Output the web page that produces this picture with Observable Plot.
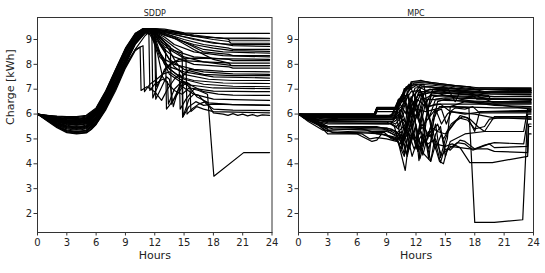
<!DOCTYPE html>
<html><head><meta charset="utf-8">
<script src="https://cdn.jsdelivr.net/npm/d3@7"></script>
<script src="https://cdn.jsdelivr.net/npm/@observablehq/plot@0.6"></script>
<style>
html,body{margin:0;padding:0;background:#fff;}
#chart{position:relative;width:545px;height:273px;font-family:"DejaVu Sans",sans-serif;}
#chart svg{position:absolute;top:0;overflow:visible;}
</style></head><body><div id="chart"></div>
<script>
const xTicks = [0, 3, 6, 9, 12, 15, 18, 21, 24];
const yTicks = [2, 3, 4, 5, 6, 7, 8, 9];
const panelTitles = ["SDDP", "MPC"];
const xLabel = "Hours";
const yLabel = "Charge [kWh]";

// SDDP trajectories: [hour, charge kWh]
const sddp = [
[[0,6],[1,5.95],[2,5.92],[3,5.9],[4,5.9],[5,5.95],[6,6.25],[7,6.95],[8,7.8],[9,8.65],[10,9.25],[10.8,9.43],[12,9.44],[13,9.42],[14,9.35],[15,9.27],[16,9.25],[23.75,9.25]],
[[0,6],[1,5.88],[2,5.78],[3,5.7],[4,5.68],[5,5.72],[6,6.05],[7,6.75],[8,7.6],[9,8.45],[10,9.1],[11,9.42],[12,9.42],[14,9.32],[16,9.18],[19.5,9.02],[19.7,8.95],[23.75,8.95]],
[[0,6],[1,5.9],[2,5.82],[3,5.75],[4,5.74],[5,5.8],[6,6.15],[7,6.85],[8,7.7],[9,8.55],[10,9.18],[11,9.42],[12,9.4],[14,9.25],[17,9.1],[19.5,9.03],[23.75,9.03]],
[[0,6],[1,5.85],[2,5.7],[3,5.6],[4,5.55],[5,5.6],[6,5.95],[7,6.6],[8,7.45],[9,8.35],[10,9.05],[11,9.4],[12,9.38],[15,9.2],[18,9.0],[19.6,8.92],[19.8,8.85],[23.75,8.85]],
[[0,6],[1,5.82],[2,5.65],[3,5.55],[4,5.5],[5,5.55],[6,5.9],[7,6.55],[8,7.35],[9,8.25],[10,9.0],[11,9.38],[11.5,9.4],[14,9.2],[17,8.95],[20,8.75],[23.75,8.72]],
[[0,6],[1,5.9],[2,5.8],[3,5.72],[4,5.7],[5,5.76],[6,6.1],[7,6.8],[8,7.65],[9,8.5],[10,9.15],[11,9.42],[12,9.35],[13,9.25],[15,9.0],[17,8.8],[19.6,8.65],[20,8.6],[23.75,8.6]],
[[0,6],[1,5.86],[2,5.72],[3,5.63],[4,5.6],[5,5.66],[6,6.0],[7,6.65],[8,7.5],[9,8.4],[10,9.08],[11,9.4],[12,9.3],[13.5,9.1],[16,8.8],[18,8.65],[20,8.55],[23.75,8.52]],
[[0,6],[1,5.8],[2,5.6],[3,5.45],[4,5.4],[5,5.45],[6,5.8],[7,6.45],[8,7.25],[9,8.15],[10,8.95],[11,9.35],[11.6,9.4],[13,9.2],[15,8.9],[17,8.6],[19,8.5],[23.75,8.45]],
[[0,6],[1,5.93],[2,5.88],[3,5.82],[4,5.82],[5,5.88],[6,6.2],[7,6.9],[8,7.75],[9,8.6],[10,9.2],[10.9,9.43],[12,9.3],[13,9.1],[14,8.8],[16,8.5],[19,8.35],[23.75,8.3]],
[[0,6],[1,5.84],[2,5.68],[3,5.58],[4,5.55],[5,5.6],[6,5.97],[7,6.62],[8,7.47],[9,8.38],[10,9.07],[11,9.4],[12,9.35],[12.5,9.0],[13,8.7],[14,8.55],[16,8.3],[19.6,8.2],[20,8.15],[23.75,8.15]],
[[0,6],[1,5.78],[2,5.55],[3,5.4],[4,5.35],[5,5.4],[6,5.75],[7,6.4],[8,7.2],[9,8.1],[10,8.9],[11,9.3],[11.7,9.38],[12.5,9.1],[13.5,8.7],[15,8.3],[17,8.1],[20,7.95],[23.75,7.95]],
[[0,6],[1,5.88],[2,5.76],[3,5.68],[4,5.65],[5,5.7],[6,6.05],[7,6.72],[8,7.58],[9,8.48],[10,9.12],[11,9.42],[12,9.2],[13,8.6],[14,8.3],[16,8.0],[19.6,7.9],[20,7.85],[23.75,7.85]],
[[0,6],[1,5.75],[2,5.5],[3,5.32],[4,5.28],[5,5.32],[6,5.65],[7,6.3],[8,7.1],[9,8.0],[10,8.8],[11,9.25],[11.8,9.35],[12.3,8.6],[13,8.2],[14,8.0],[16,7.8],[19,7.72],[23.75,7.7]],
[[0,6],[1,5.9],[2,5.8],[3,5.74],[4,5.72],[5,5.78],[6,6.12],[7,6.82],[8,7.68],[9,8.52],[10,9.17],[11,9.42],[12,9.2],[12.6,8.8],[13.5,8.2],[15,7.8],[17,7.6],[20,7.55],[23.75,7.55]],
[[0,6],[1,5.82],[2,5.62],[3,5.5],[4,5.45],[5,5.5],[6,5.85],[7,6.5],[8,7.3],[9,8.2],[10,8.95],[11,9.35],[11.5,9.4],[12,8.9],[12.5,8.3],[13.5,7.9],[15,7.7],[18,7.5],[23.75,7.45]],
[[0,6],[1,5.86],[2,5.73],[3,5.64],[4,5.62],[5,5.67],[6,6.02],[7,6.68],[8,7.52],[9,8.42],[10,9.1],[11,9.4],[12,9.1],[13,8.5],[14,7.9],[15,7.6],[17.5,7.4],[20,7.35],[23.75,7.35]],
[[0,6],[1,5.8],[2,5.58],[3,5.46],[4,5.42],[5,5.47],[6,5.82],[7,6.47],[8,7.27],[9,8.17],[10,8.92],[11,9.33],[11.6,9.38],[12.2,8.7],[13,8.0],[14.5,7.5],[16,7.35],[19,7.25],[23.75,7.23]],
[[0,6],[1,5.92],[2,5.86],[3,5.8],[4,5.79],[5,5.85],[6,6.18],[7,6.88],[8,7.72],[9,8.58],[10,9.2],[10.9,9.43],[11.5,9.2],[12.5,8.5],[13.5,7.8],[15,7.4],[17,7.2],[20,7.12],[23.75,7.1]],
[[0,6],[1,5.78],[2,5.52],[3,5.36],[4,5.3],[5,5.35],[6,5.7],[7,6.35],[8,7.15],[9,8.05],[10,8.85],[11,9.28],[11.8,9.36],[12.6,8.4],[13.5,7.6],[15,7.2],[18,7.05],[23.75,7.02]],
[[0,6],[1,5.76],[2,5.5],[3,5.3],[4,5.25],[5,5.3],[6,5.62],[7,6.25],[8,7.05],[9,7.95],[10,8.6],[10.8,8.75],[10.95,6.9],[11.5,7.2],[12.2,7.4],[12.8,7.6],[13.5,7.7],[14.2,7.5],[15,7.3],[16,7.1],[17,6.9],[18.5,6.8],[20,6.76],[23.75,6.75]],
[[0,6],[1,5.83],[2,5.66],[3,5.52],[4,5.48],[5,5.52],[6,5.88],[7,6.52],[8,7.33],[9,8.22],[10,8.95],[11,9.35],[11.4,9.2],[11.5,6.95],[12,7.2],[12.8,7.4],[13.3,7.3],[13.4,6.4],[14,7.0],[14.5,7.2],[15.2,7.0],[16,6.8],[18,6.6],[23.75,6.55]],
[[0,6],[1,5.87],[2,5.74],[3,5.66],[4,5.63],[5,5.68],[6,6.04],[7,6.7],[8,7.55],[9,8.45],[10,9.1],[11,9.4],[12,9.25],[13,8.9],[13.6,8.7],[13.7,6.4],[14.3,6.9],[15,7.3],[15.5,7.1],[16.3,6.7],[17.5,6.45],[20,6.38],[23.75,6.35]],
[[0,6],[1,5.9],[2,5.79],[3,5.7],[4,5.68],[5,5.73],[6,6.08],[7,6.77],[8,7.63],[9,8.5],[10,9.14],[11,9.41],[12,9.3],[13,9.0],[14,8.7],[14.8,8.5],[14.9,5.9],[15.5,6.6],[16,6.8],[16.5,6.75],[17.3,6.4],[18,6.2],[19,6.18],[20,6.16],[23.75,6.14]],
[[0,6],[1,5.81],[2,5.6],[3,5.48],[4,5.44],[5,5.49],[6,5.84],[7,6.48],[8,7.29],[9,8.19],[10,8.93],[11,9.34],[11.6,9.39],[12.5,9.0],[13.5,8.6],[15.2,8.2],[15.3,6.0],[15.8,6.2],[16.5,6.4],[17.2,6.5],[17.6,6.3],[18,6.05],[19,6.0],[19.5,5.95],[20,6.02],[20.5,5.95],[21,6.0],[21.5,5.93],[22,5.98],[22.5,5.92],[23,5.97],[23.75,5.95]],
[[0,6],[1,5.84],[2,5.7],[3,5.6],[4,5.57],[5,5.62],[6,5.98],[7,6.63],[8,7.48],[9,8.38],[10,9.06],[11,9.39],[12,9.3],[13,8.9],[14,8.2],[14.5,7.9],[14.6,6.2],[15.2,6.6],[16,7.0],[16.5,6.95],[17.4,6.8],[18.05,3.5],[21.1,4.45],[23.75,4.45]],
[[0,6],[1,5.79],[2,5.56],[3,5.42],[4,5.38],[5,5.43],[6,5.78],[7,6.42],[8,7.22],[9,8.12],[10,8.9],[11,9.3],[11.7,9.36],[11.8,6.65],[12.4,7.2],[13,7.8],[14,8.1],[15,8.15],[17,8.1],[20,8.05],[23.75,8.05]],
[[0,6],[1,5.91],[2,5.84],[3,5.78],[4,5.77],[5,5.83],[6,6.16],[7,6.86],[8,7.7],[9,8.55],[10,9.19],[11,9.43],[12.5,9.38],[14,9.2],[16,9.0],[18,8.85],[20,8.8],[23.75,8.8]],
[[0,6],[1,5.95],[2,5.9],[3,5.86],[4,5.86],[5,5.92],[6,6.22],[7,6.92],[8,7.78],[9,8.62],[10,9.23],[10.8,9.44],[12,9.43],[14,9.3],[16,9.12],[19,9.06],[23.75,9.05]],
[[0,6],[1,5.77],[2,5.52],[3,5.34],[4,5.3],[5,5.34],[6,5.68],[7,6.32],[8,7.12],[9,8.02],[10,8.82],[11,9.27],[12,9.2],[12.1,6.6],[12.6,7.0],[13.2,7.5],[13.5,7.4],[13.9,6.3],[14.4,7.0],[15,7.6],[15.6,7.8],[17,7.7],[20,7.62],[23.75,7.6]],
[[0,6],[1,5.85],[2,5.71],[3,5.61],[4,5.58],[5,5.63],[6,5.99],[7,6.64],[8,7.49],[9,8.4],[10,9.08],[11,9.4],[12,9.35],[12.2,7.1],[12.8,7.6],[13.5,8.0],[14.5,8.2],[16,8.25],[19.6,8.22],[23.75,8.2]],
[[0,6],[1,5.74],[2,5.48],[3,5.28],[4,5.22],[5,5.26],[5.5,5.4],[6,5.6],[7,6.22],[8,7.02],[9,7.9],[10,8.6],[11,9.15],[11.5,9.33],[12,9.2],[12.6,8.8],[13.1,8.6],[13.2,6.2],[13.8,6.5],[14.5,6.9],[15.2,7.3],[15.6,7.2],[15.7,6.1],[16.3,6.3],[17,6.2],[18,6.1],[23.75,6.05]],
[[0,6],[1,5.88],[2,5.77],[3,5.69],[4,5.66],[5,5.71],[6,6.07],[7,6.74],[8,7.6],[9,8.47],[10,9.12],[11,9.41],[12,9.32],[14,9.05],[16,8.6],[18,8.2],[19.6,8.05],[19.8,7.95],[23.75,7.95]],
[[0,6],[1,5.72],[2,5.45],[3,5.25],[4,5.2],[5,5.24],[5.5,5.38],[6,5.58],[7,6.18],[8,6.95],[9,7.85],[10,8.55],[10.5,8.7],[10.6,6.95],[11.2,7.1],[12,6.9],[12.7,6.55],[13.3,7.0],[14,7.4],[14.5,7.6],[14.8,7.5],[14.85,5.87],[15.5,6.3],[16.2,6.5],[17,6.35],[18,6.4],[20,6.38],[23.75,6.36]],
[[0,6],[1,5.89],[2,5.78],[3,5.71],[4,5.69],[5,5.74],[6,6.09],[7,6.78],[8,7.64],[9,8.5],[10,9.14],[11,9.41],[12.5,9.3],[14,9.1],[16,8.7],[17,8.5],[19.6,8.4],[20,8.35],[23.75,8.35]],
[[0,6],[1,5.83],[2,5.64],[3,5.52],[4,5.47],[5,5.51],[6,5.87],[7,6.51],[8,7.31],[9,8.21],[10,8.94],[11,9.36],[11.5,9.39],[12.3,8.4],[12.8,7.5],[13.4,7.2],[14,6.95],[14.8,6.8],[15.5,7.05],[16.5,7.0],[18,6.92],[23.75,6.9]]
];

// MPC trajectories: [hour, charge kWh]
const mpc = [
[[0,6],[7.75,6],[8,6.27],[10,6.27],[10.25,6.56],[10.6,6.56],[10.8,7.02],[11.3,7.02],[11.5,7.3],[12.5,7.36],[14,7.2],[17.5,7.1],[18.5,7.05],[23.75,7.05]],
[[0,6],[7.75,6],[8,6.25],[9.9,6.25],[10.2,6.6],[10.7,6.6],[10.9,7.0],[11.6,7.25],[13,7.25],[15,7.15],[18,7.0],[23.75,6.95]],
[[0,6],[1,5.97],[7.75,5.97],[8,6.2],[10,6.2],[10.5,6.7],[11,7.1],[12,7.2],[13,7.1],[16,7.0],[19,6.85],[23.75,6.85]],
[[0,6],[0.75,5.95],[9.5,5.95],[10,6.4],[10.6,6.8],[11.2,6.7],[11.5,5.8],[12,6.6],[12.4,6.9],[13,6.9],[14,6.85],[17,6.8],[20,6.7],[23.75,6.7]],
[[0,6],[1,5.9],[2.5,5.9],[3,5.85],[9.8,5.85],[10.2,6.3],[10.8,5.3],[11.2,6.4],[11.8,6.8],[12.3,5.9],[12.8,6.6],[13.5,6.75],[16,6.7],[20,6.6],[23.75,6.6]],
[[0,6],[1.2,5.8],[2,5.75],[9.6,5.7],[10,5.9],[10.6,4.7],[11,5.6],[11.6,6.2],[12.2,5.2],[12.7,6.3],[13.2,6.6],[15,6.55],[20,6.5],[23.75,6.5]],
[[0,6],[0.5,5.85],[3,5.6],[9.4,5.6],[9.8,5.5],[10.9,3.73],[11.3,5.0],[11.8,6.1],[12.3,4.13],[12.8,5.5],[13.3,6.3],[14,6.4],[18,6.4],[23.75,6.4]],
[[0,6],[0.7,5.85],[2,5.7],[3,5.5],[8,5.45],[9.5,5.4],[10.2,5.2],[10.8,4.4],[11.5,5.8],[12,4.6],[12.6,6.0],[13.3,4.2],[13.8,5.8],[14.4,6.3],[16,6.3],[20,6.25],[23.75,6.25]],
[[0,6],[1,5.8],[2.5,5.55],[3.5,5.4],[9,5.35],[10,5.1],[10.5,5.3],[11.1,4.3],[11.7,5.3],[12.2,4.5],[12.8,5.2],[13.3,4.6],[14,5.6],[14.5,4.25],[15,5.0],[15.3,5.3],[16.5,5.94],[17.3,5.85],[18,5.3],[18.5,6.1],[23.75,6.1]],
[[0,6],[1,5.75],[2,5.55],[3,5.3],[4,5.25],[6,5.25],[8.5,5.2],[9.8,5.0],[10.4,4.8],[11,5.5],[11.5,4.9],[12,5.6],[12.4,4.2],[13,5.1],[13.5,5.3],[14.4,4.1],[14.8,4.0],[15.2,4.6],[15.5,4.55],[16.5,4.95],[17,4.9],[18,4.6],[19,4.75],[20,4.85],[23,4.8],[23.4,5.8],[23.75,5.8]],
[[0,6],[1,5.85],[3,5.5],[9,5.45],[10,5.3],[10.7,4.9],[11.3,5.9],[12,6.2],[13,6.1],[14,6.2],[15,6.3],[17.4,6.26],[18,1.64],[20,1.64],[22.9,1.75],[23.4,6.0],[23.75,6.0]],
[[0,6],[1,5.85],[2,5.6],[3.5,5.25],[6.5,5.2],[7.3,5.0],[8,5.05],[9,5.0],[10,4.9],[10.5,5.1],[11,4.4],[11.6,5.2],[12.2,4.5],[13,5.0],[13.5,4.1],[14,4.8],[15,4.7],[15.7,4.8],[16.5,4.65],[17.5,4.05],[19.8,4.05],[23.4,4.3],[23.5,5.2],[23.75,5.2]],
[[0,6],[1,5.8],[2.5,5.5],[6,5.45],[7.5,5.3],[9,5.3],[10,5.15],[10.6,4.8],[11.2,5.3],[11.8,4.6],[12.5,5.1],[13.2,4.8],[14,5.0],[14.6,4.35],[15.2,4.55],[16.2,4.85],[17,4.8],[17.8,4.55],[18.8,4.7],[19.5,4.8],[20,4.65],[23.4,4.7],[23.5,5.6],[23.75,5.6]],
[[0,6],[0.5,5.9],[1.5,5.8],[3,5.2],[6,5.2],[7,5.0],[7.5,4.9],[8,4.95],[8.5,5.2],[9.5,5.1],[10,5.05],[10.5,4.6],[11,5.4],[11.6,4.3],[12.2,5.0],[12.8,4.4],[13.5,4.1],[14,5.2],[14.5,5.5],[15,4.3],[15.5,4.9],[17,5.2],[19,5.3],[23,5.3],[23.4,6.2],[23.75,6.2]],
[[0,6],[7.75,6],[8,6.25],[10,6.25],[10.3,6.6],[10.6,6.5],[11,7.05],[11.6,6.0],[12,6.9],[12.5,7.2],[14,7.15],[16,7.05],[18.5,6.95],[19,6.9],[23.75,6.9]],
[[0,6],[2,5.95],[7.8,5.95],[8,6.2],[9.9,6.2],[10.2,6.5],[10.9,6.5],[11.2,5.5],[11.6,6.7],[12.4,7.0],[13.2,6.1],[13.6,6.9],[15,6.95],[17,6.9],[19.6,6.8],[23.75,6.78]],
[[0,6],[1.5,5.9],[9.5,5.9],[10.1,6.1],[10.8,5.0],[11.3,6.2],[12,6.6],[12.7,4.7],[13.2,6.2],[13.8,6.7],[15,6.75],[18,6.7],[20,6.6],[23.75,6.55]],
[[0,6],[0.8,5.88],[4,5.82],[9.6,5.8],[10.3,6.0],[11,5.4],[11.8,6.4],[12.5,5.6],[13,6.5],[14.5,4.05],[15.2,5.0],[15.5,6.3],[17,6.5],[19,6.45],[23.75,6.45]],
[[0,6],[1,5.8],[2.2,5.65],[9.2,5.6],[9.8,5.7],[10.4,5.9],[11,5.2],[11.5,6.3],[12.3,6.8],[13,6.6],[13.6,5.3],[14.2,6.5],[15,6.6],[20,6.35],[23.75,6.3]],
[[0,6],[1,5.9],[3,5.78],[9.7,5.78],[10.2,6.2],[10.7,6.9],[11.3,7.2],[12,6.6],[12.5,7.1],[13.5,7.1],[16,6.9],[19.4,6.75],[19.6,6.6],[23.75,6.6]],
[[0,6],[0.6,5.85],[2.5,5.72],[9.3,5.7],[9.9,5.6],[10.5,5.9],[11.2,6.8],[11.9,5.7],[12.6,6.8],[13.4,7.0],[15,6.9],[17.5,6.85],[20,6.45],[23.75,6.45]],
[[0,6],[1,5.75],[2.5,5.5],[8,5.5],[9,5.4],[10,5.2],[10.7,5.5],[11.2,4.5],[11.8,5.7],[12.5,6.2],[13.2,5.0],[13.9,6.1],[14.6,6.2],[15.1,5.6],[15.6,6.1],[18,6.0],[20,5.85],[23.75,5.85]],
[[0,6],[1,5.8],[3,5.45],[8.5,5.4],[10,5.3],[10.6,5.0],[11.3,5.2],[12,4.9],[12.6,5.6],[13.4,5.1],[14.2,5.6],[14.8,5.0],[15.3,5.34],[16,5.7],[16.8,5.9],[17.5,5.8],[18.3,5.5],[19,5.3],[19.5,5.6],[20,5.9],[23.75,5.9]],
[[0,6],[0.5,5.95],[1.5,5.88],[9,5.88],[9.8,6.05],[10.5,6.3],[11.5,6.9],[12.4,6.95],[13,6.4],[13.5,6.8],[15,6.85],[17.8,6.75],[18.2,6.6],[23.75,6.6]],
[[0,6],[2,5.92],[10.2,5.92],[10.7,6.4],[11.2,6.95],[12,7.15],[13,6.95],[14,7.0],[16,6.95],[19.5,6.88],[23.75,6.88]],
[[0,6],[1,5.85],[3,5.7],[9,5.68],[10,5.5],[10.7,5.8],[11.4,5.3],[12,6.0],[12.6,5.4],[13.2,5.8],[14,6.2],[14.6,5.6],[15.2,6.0],[16,6.25],[17,6.2],[17.8,6.3],[18.5,6.05],[23.75,6.05]],
[[0,6],[1,5.7],[2.5,5.35],[5,5.3],[8.8,5.25],[9.5,5.0],[10,4.95],[10.5,5.2],[11.3,4.6],[12,5.5],[12.7,4.35],[13.3,5.3],[14,4.6],[14.6,5.2],[15,4.55],[15.5,4.7],[17.5,4.6],[19.3,4.6],[20,4.5],[23.4,4.45],[23.5,5.5],[23.75,5.5]],
[[0,6],[1,5.9],[7.8,5.9],[8,6.1],[10,6.1],[10.3,6.5],[10.8,6.9],[11.4,7.15],[12.8,7.2],[13.2,6.2],[13.7,7.0],[14.5,7.05],[17,7.0],[23.75,6.98]],
[[0,6],[1,5.85],[2,5.6],[3,5.4],[7,5.35],[8,5.2],[9,5.15],[10,5.0],[10.8,4.3],[11.4,5.6],[12,5.0],[12.5,5.3],[13,4.8],[13.5,5.5],[14.2,5.3],[15,5.2],[15.6,5.6],[16.4,5.85],[17.3,5.75],[18,5.4],[19,5.5],[19.5,5.8],[20.5,5.85],[23.75,5.8]],
[[0,6],[1.5,5.93],[9.8,5.93],[10.3,6.35],[11,6.75],[11.8,7.25],[13,7.3],[14,7.25],[16,7.15],[17.5,7.1],[18,7.0],[22,6.95],[23.75,6.95]],
[[0,6],[1,5.92],[9.5,5.92],[10,6.25],[10.7,6.8],[11.2,6.2],[11.9,7.05],[13,7.1],[15.2,7.05],[16,6.5],[16.5,6.9],[19,6.85],[23.75,6.85]],
[[0,6],[7.75,6],[8,6.25],[10,6.25],[10.2,6.55],[10.7,6.55],[10.8,7.0],[11.4,7.0],[11.6,7.3],[13,7.3],[15,7.2],[18,7.05],[23.75,7.02]],
[[0,6],[1,5.95],[7.8,5.95],[8.1,6.2],[10,6.2],[10.3,6.45],[11,6.0],[11.5,6.7],[12.2,5.9],[12.8,6.8],[14,6.9],[17,6.8],[19.4,6.7],[23.75,6.72]],
[[0,6],[0.8,5.9],[2,5.8],[9.6,5.78],[10.3,5.9],[10.9,6.5],[11.4,5.6],[12,6.4],[12.6,6.9],[13.3,5.8],[14,6.6],[15,6.65],[20,6.6],[23.75,6.58]],
[[0,6],[1,5.88],[9.7,5.85],[10.5,6.2],[11,5.6],[11.7,6.5],[12.2,6.3],[12.9,6.9],[14,6.85],[16.5,6.6],[18,6.5],[23.75,6.2]],
[[0,6],[1.2,5.85],[3,5.65],[9.5,5.62],[10.2,5.4],[10.8,6.1],[11.5,6.0],[12.1,6.6],[13,6.3],[14.5,6.4],[15.5,6.1],[17,6.0],[19,6.1],[23.75,6.15]]
];

function toRows(trajs) {
  return trajs.flatMap((t, i) => t.map(([h, v]) => ({id: i, h, v})));
}

function panel(trajs, title, opts) {
  const marks = [
    Plot.line(toRows(trajs), {x: "h", y: "v", z: "id", stroke: "black", strokeWidth: 1.2, clip: true}),
    Plot.frame({stroke: "#333", strokeWidth: 1}),
    Plot.axisX({ticks: xTicks, tickSize: 3.5, tickPadding: 3, fontSize: 10, label: null, stroke: "#333"}),
    Plot.axisY({ticks: yTicks, tickSize: 3.5, tickPadding: 2, fontSize: 10, label: null, stroke: "#333"}),
    Plot.text([title], {frameAnchor: "top", dy: -7, fontSize: 8, fill: "#222"}),
    Plot.text([xLabel], {frameAnchor: "bottom", dy: 26, fontSize: 11, fill: "#222"})
  ];
  if (opts.ylabel) {
    marks.push(Plot.text([yLabel], {frameAnchor: "left", dx: -27, rotate: -90, fontSize: 11, fill: "#222"}));
  }
  const svg = Plot.plot({
    width: opts.width,
    height: 273,
    marginTop: 17,
    marginBottom: 41,
    marginLeft: opts.ml,
    marginRight: opts.mr,
    x: {domain: [0, 24]},
    y: {domain: [1.236, 9.885]},
    style: {fontFamily: "DejaVu Sans", background: "transparent", color: "#222"},
    marks
  });
  svg.style.left = opts.left + "px";
  return svg;
}

const chart = document.getElementById("chart");
chart.appendChild(panel(sddp, panelTitles[0], {width: 274, left: 0, ml: 37, mr: 2.5, ylabel: true}));
chart.appendChild(panel(mpc, panelTitles[1], {width: 273, left: 272, ml: 26, mr: 12, ylabel: false}));
</script></body></html>
